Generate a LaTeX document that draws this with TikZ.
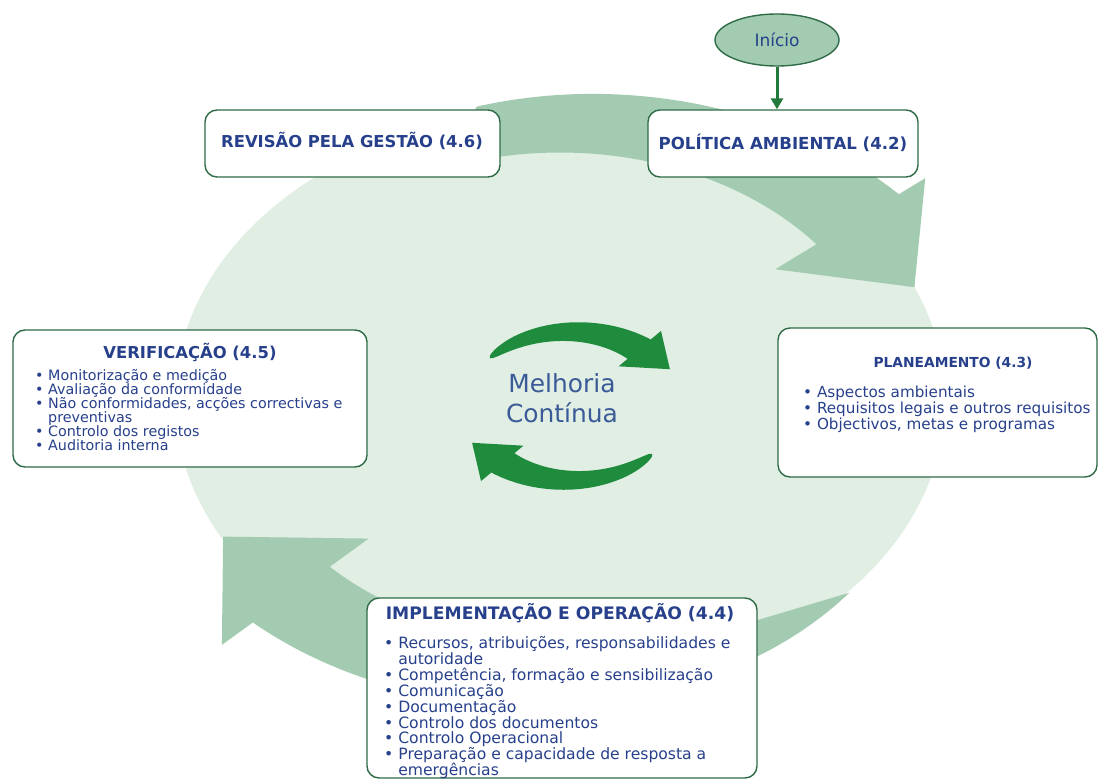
\documentclass[tikz,border=0pt]{standalone}
\usepackage{fontspec}
\setmainfont{DejaVu Sans}
\usetikzlibrary{arrows.meta,shapes.geometric}
\definecolor{fundo}{HTML}{E0EEE3}
\definecolor{faixa}{HTML}{A3CBB1}
\definecolor{borda}{HTML}{2E6B46}
\definecolor{azul}{HTML}{27408B}
\definecolor{azulclaro}{HTML}{3A5A98}
\definecolor{verdeseta}{HTML}{1F8B3D}
\definecolor{setaverde}{HTML}{217A3C}
\tikzset{
  caixa/.style={draw=borda, line width=1.4pt, rounded corners=12pt, fill=white, inner sep=0pt},
  titulo/.style={font=\fontsize{#1}{#1}\selectfont\bfseries, text=azul, inner sep=0pt},
  item/.style={font=\fontsize{#1}{#1}\selectfont, text=azul, anchor=base west, inner sep=0pt},
  seta/.style={draw=setaverde, line width=3pt, -{Triangle[length=11pt,width=12pt]}}
}
\begin{document}
\begin{tikzpicture}[x=1pt,y=-1pt]
			\useasboundingbox (0,0) rectangle (1099,781);
			%circulo de fundo
			\fill[fundo] (560,400) ellipse [x radius=385pt, y radius=289pt];
			\begin{scope}[shift={(560,400)}, yscale=-0.75]
				\fill[faixa] plot[domain=102:39, samples=60] (\x:{400+36*(102-\x)/63}) -- (39:470) -- (23:385) -- (39:277) -- plot[domain=39:112, samples=60] (\x:330) -- cycle;
				\fill[faixa] plot[domain=318.4:224, samples=60] (\x:{387+40*(318.4-\x)/94.4}) -- (224:470) -- (208.4:383) -- (224:266) -- plot[domain=224:293.8, samples=60] (\x:320) -- (293.8:346) -- cycle;
			\end{scope}
			%setas centrais
			\begin{scope}[shift={(571,406)}, yscale=-0.7]
				\fill[verdeseta] plot[domain=140:50, samples=60] (\x:{106+18*sqrt(max(0,(140-\x)/90))}) -- (50:140) -- (28:112) -- (50:74) -- plot[domain=50:140, samples=60] (\x:{106-18*sqrt(max(0,(140-\x)/90))}) -- cycle;
				\fill[verdeseta] plot[domain=320:230, samples=60] (\x:{106+18*sqrt(max(0,(320-\x)/90))}) -- (230:140) -- (208:112) -- (230:74) -- plot[domain=230:320, samples=60] (\x:{106-18*sqrt(max(0,(320-\x)/90))}) -- cycle;
			\end{scope}
			\node[font=\fontsize{24.9}{30}\selectfont, text=azulclaro, align=center] (melhoria) at (562,398) {Melhoria\\Contínua};
			%inicio
			\node[ellipse, draw=borda, line width=1.4pt, fill=faixa, minimum width=124pt, minimum height=52pt, font=\fontsize{17}{17}\selectfont, text=azul] (inicio) at (777,40) {Início};
			%caixas de cima
			\node[caixa, minimum width=295pt, minimum height=67pt] (revisao) at (352.5,143.5) {};
			\node[titulo=16.4] (trev) at (352,141) {REVISÃO PELA GESTÃO (4.6)};
			\node[caixa, minimum width=270pt, minimum height=67pt] (politica) at (783,143.5) {};
			\node[titulo=16.6] (tpol) at (783,143) {POLÍTICA AMBIENTAL (4.2)};
			\draw[seta] (inicio.south) -- (inicio.south |- politica.north);
			%verificacao
			\node[caixa, minimum width=354pt, minimum height=137pt] (verificacao) at (190,398.5) {};
			\node[titulo=16.4] (tver) at (190,352) {VERIFICAÇÃO (4.5)};
			\node[item=14.3] (ver1) at (35,380) {• Monitorização e medição};
			\node[item=14.3] (ver2) at (35,394) {• Avaliação da conformidade};
			\node[item=14.3] (ver3) at (35,408) {• Não conformidades, acções correctivas e};
			\node[item=14.3] (ver4) at (35,422) {\phantom{• }preventivas};
			\node[item=14.3] (ver5) at (35,436) {• Controlo dos registos};
			\node[item=14.3] (ver6) at (35,450) {• Auditoria interna};
			%planeamento
			\node[caixa, minimum width=319pt, minimum height=149pt] (planeamento) at (937.5,402.5) {};
			\node[titulo=13.8] (tpla) at (953,363) {PLANEAMENTO (4.3)};
			\node[item=15.2] (pla1) at (803,397) {• Aspectos ambientais};
			\node[item=15.2] (pla2) at (803,413) {• Requisitos legais e outros requisitos};
			\node[item=15.2] (pla3) at (803,429) {• Objectivos, metas e programas};
			%implementacao
			\node[caixa, minimum width=390pt, minimum height=180pt] (implementacao) at (562,688) {};
			\node[titulo=17.2] (timp) at (560,613) {IMPLEMENTAÇÃO E OPERAÇÃO (4.4)};
			\node[item=15.6] (imp1) at (384,648) {• Recursos, atribuições, responsabilidades e};
			\node[item=15.6] (imp2) at (384,664) {\phantom{• }autoridade};
			\node[item=15.6] (imp3) at (384,680) {• Competência, formação e sensibilização};
			\node[item=15.6] (imp4) at (384,696) {• Comunicação};
			\node[item=15.6] (imp5) at (384,712) {• Documentação};
			\node[item=15.6] (imp6) at (384,728) {• Controlo dos documentos};
			\node[item=15.6] (imp7) at (384,743) {• Controlo Operacional};
			\node[item=15.6] (imp8) at (384,759) {• Preparação e capacidade de resposta a};
			\node[item=15.6] (imp9) at (384,775) {\phantom{• }emergências};
		\end{tikzpicture}
\end{document}
